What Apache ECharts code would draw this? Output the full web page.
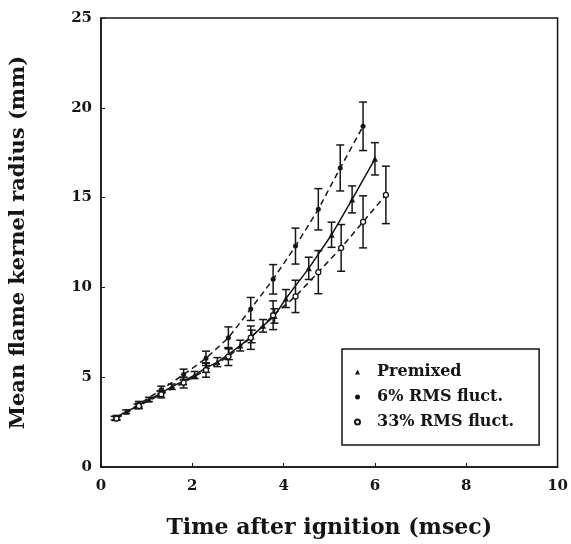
<!DOCTYPE html>
<html>
<head>
<meta charset="utf-8">
<script src="https://cdn.jsdelivr.net/npm/echarts@6/dist/echarts.min.js"></script>
<style>
  html, body { margin: 0; padding: 0; background: #fff; }
  #chart { width: 571px; height: 544px; }
</style>
</head>
<body>
<div id="chart"></div>
<script>
// Premixed (solid line, triangles)
const premixedT = [0.3, 0.55, 0.8, 1.05, 1.3, 1.55, 1.8, 2.05, 2.3, 2.55, 2.8, 3.05, 3.3, 3.55, 3.8, 4.05, 4.55, 5.05, 5.5, 6.0]
const premixedR = [2.72, 3.08, 3.38, 3.76, 4.08, 4.47, 4.78, 5.12, 5.52, 5.84, 6.28, 6.76, 7.27, 7.86, 8.41, 9.38, 11.06, 12.93, 14.9, 17.16]
const premixedErr = [0.1, 0.1, 0.12, 0.12, 0.15, 0.15, 0.2, 0.2, 0.25, 0.25, 0.3, 0.3, 0.35, 0.35, 0.4, 0.5, 0.62, 0.7, 0.75, 0.9]

// 6% RMS fluct. (upper dashed, filled dots)
const rms6T = [0.34, 0.83, 1.32, 1.81, 2.30, 2.79, 3.28, 3.77, 4.26, 4.76, 5.24, 5.74]
const rms6R = [2.75, 3.5, 4.3, 5.15, 6.05, 7.2, 8.8, 10.45, 12.3, 14.35, 16.65, 18.97]
const rms6Err = [0.12, 0.15, 0.2, 0.3, 0.4, 0.6, 0.64, 0.82, 1.0, 1.15, 1.28, 1.35]

// 33% RMS fluct. (lower dashed, open circles)
const rms33T = [0.34, 0.83, 1.32, 1.81, 2.30, 2.79, 3.28, 3.77, 4.26, 4.76, 5.26, 5.74, 6.24]
const rms33R = [2.7, 3.4, 4.05, 4.7, 5.4, 6.15, 7.2, 8.45, 9.5, 10.85, 12.2, 13.65, 15.15]
const rms33Err = [0.1, 0.15, 0.2, 0.3, 0.4, 0.5, 0.65, 0.8, 0.9, 1.2, 1.3, 1.45, 1.6]

const xTicks = [0, 2, 4, 6, 8, 10]
const yTicks = [0, 5, 10, 15, 20, 25]

const ink = '#151515'
const font = 'DejaVu Serif'

function pts(t, r) {
  return t.map((v, i) => [v, r[i]])
}
function bars(t, r, e) {
  return t.map((v, i) => [v, r[i] - e[i], r[i] + e[i]])
}

function errorBar(params, api) {
  const x = api.value(0)
  const lo = api.coord([x, api.value(1)])
  const hi = api.coord([x, api.value(2)])
  const w = 4
  const style = { stroke: ink, lineWidth: 1.5 }
  return {
    type: 'group',
    children: [
      { type: 'line', shape: { x1: lo[0], y1: lo[1], x2: hi[0], y2: hi[1] }, style: style },
      { type: 'line', shape: { x1: lo[0] - w, y1: lo[1], x2: lo[0] + w, y2: lo[1] }, style: style },
      { type: 'line', shape: { x1: hi[0] - w, y1: hi[1], x2: hi[0] + w, y2: hi[1] }, style: style }
    ]
  }
}

function errSeries(t, r, e) {
  return {
    type: 'custom',
    renderItem: errorBar,
    encode: { x: 0, y: [1, 2] },
    data: bars(t, r, e),
    z: 3,
    silent: true
  }
}

const myChart = echarts.init(document.getElementById('chart'))
myChart.setOption({
  animation: false,
  backgroundColor: '#fff',
  grid: {
    left: 95,
    right: 10,
    top: 18,
    bottom: 70,
    show: true,
    borderColor: ink,
    borderWidth: 1.5
  },
  legend: {
    orient: 'vertical',
    left: 342,
    top: 349,
    padding: [15, 25, 15, 12],
    itemGap: 9,
    itemWidth: 5,
    itemHeight: 5,
    borderColor: ink,
    borderWidth: 1.5,
    textStyle: { fontFamily: font, fontWeight: 'bold', fontSize: 16, color: ink, padding: [0, 0, 0, 12] },
    data: [
      { name: 'Premixed', icon: 'triangle' },
      { name: '6% RMS fluct.', icon: 'circle' },
      { name: '33% RMS fluct.', icon: 'circle' }
    ]
  },
  xAxis: {
    type: 'value',
    min: 0,
    max: 10,
    interval: 2,
    name: 'Time after ignition (msec)',
    nameLocation: 'middle',
    nameGap: 50,
    nameTextStyle: { fontFamily: font, fontWeight: 'bold', fontSize: 22, color: ink },
    axisLine: { show: true, lineStyle: { color: ink, width: 1.5 } },
    axisTick: { show: true, inside: true, length: 4, lineStyle: { color: ink } },
    axisLabel: {
      fontFamily: font, fontWeight: 'bold', fontSize: 15, color: ink, margin: 12,
      formatter: v => (xTicks.includes(v) ? String(v) : '')
    },
    splitLine: { show: false }
  },
  yAxis: {
    type: 'value',
    min: 0,
    max: 25,
    interval: 5,
    name: 'Mean flame kernel radius (mm)',
    nameLocation: 'middle',
    nameGap: 72,
    nameRotate: 90,
    nameTextStyle: { fontFamily: font, fontWeight: 'bold', fontSize: 21, color: ink },
    axisLine: { show: true, lineStyle: { color: ink, width: 1.5 } },
    axisTick: { show: true, inside: true, length: 4, lineStyle: { color: ink } },
    axisLabel: {
      fontFamily: font, fontWeight: 'bold', fontSize: 15, color: ink, margin: 9,
      formatter: v => (yTicks.includes(v) ? String(v) : '')
    },
    splitLine: { show: false }
  },
  series: [
    {
      name: 'Premixed',
      type: 'line',
      data: pts(premixedT, premixedR),
      symbol: 'triangle',
      symbolSize: 6,
      showAllSymbol: true,
      itemStyle: { color: ink },
      lineStyle: { color: ink, width: 1.5, type: 'solid' },
      z: 4
    },
    {
      name: '6% RMS fluct.',
      type: 'line',
      data: pts(rms6T, rms6R),
      symbol: 'circle',
      symbolSize: 5,
      showAllSymbol: true,
      itemStyle: { color: ink },
      lineStyle: { color: ink, width: 1.5, type: [6, 4] },
      z: 4
    },
    {
      name: '33% RMS fluct.',
      type: 'line',
      data: pts(rms33T, rms33R),
      symbol: 'circle',
      symbolSize: 5,
      showAllSymbol: true,
      itemStyle: { color: '#fff', borderColor: ink, borderWidth: 1.3 },
      lineStyle: { color: ink, width: 1.5, type: [6, 4] },
      z: 4
    },
    errSeries(premixedT, premixedR, premixedErr),
    errSeries(rms6T, rms6R, rms6Err),
    errSeries(rms33T, rms33R, rms33Err)
  ]
})
</script>
</body>
</html>
